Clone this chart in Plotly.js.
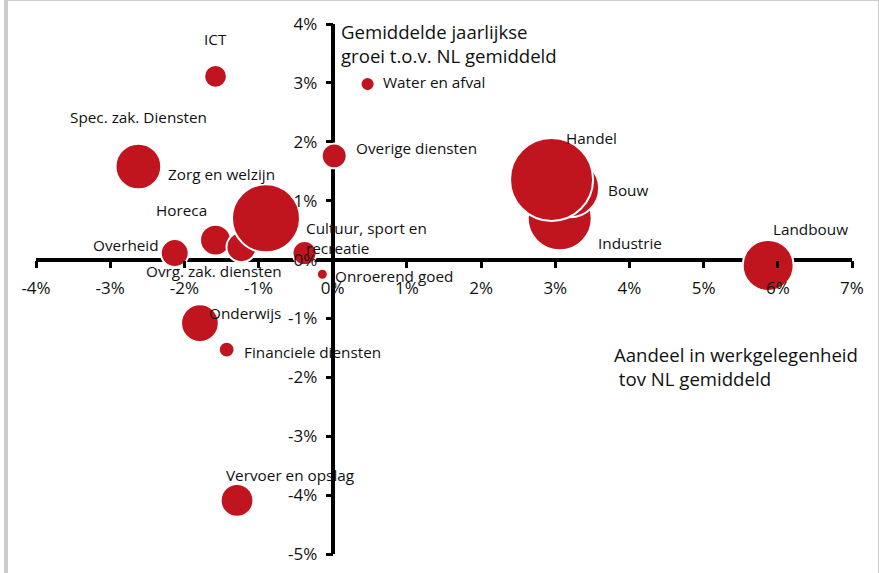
<!DOCTYPE html>
<html>
<head>
<meta charset="utf-8">
<script src="https://cdn.plot.ly/plotly-3.0.1.min.js"></script>
<style>
  html, body { margin: 0; padding: 0; background: #fff; }
  #wrap { position: relative; width: 879px; height: 573px; overflow: hidden; }
  #chart { position: absolute; left: 0; top: 0; width: 879px; height: 573px; }
  #frame { position: absolute; left: 4px; top: 0; width: 875px; height: 573px;
           border-left: 4px solid #cccccc; border-top: 1px solid #cccccc; border-right: 1px solid #cccccc;
           box-sizing: border-box; pointer-events: none; }
</style>
</head>
<body>
<div id="wrap">
  <div id="chart"></div>
  <div id="frame"></div>
</div>
<script>
// Sectors (draw order: later items are drawn on top)
const sectoren = [
  "Landbouw", "Industrie", "Water en afval", "Bouw", "Handel",
  "Vervoer en opslag", "Horeca", "ICT", "Financiele diensten", "Onroerend goed",
  "Spec. zak. Diensten", "Ovrg. zak. diensten", "Overheid", "Onderwijs",
  "Zorg en welzijn", "Cultuur, sport en<br>recreatie", "Overige diensten"
];
// Aandeel in werkgelegenheid t.o.v. NL gemiddeld (%)
const aandeel = [
  5.87, 3.06, 0.47, 3.20, 2.95,
  -1.29, -1.58, -1.58, -1.43, -0.14,
  -2.62, -1.23, -2.13, -1.79,
  -0.90, -0.38, 0.02
];
// Gemiddelde jaarlijkse groei t.o.v. NL gemiddeld (%)
const groei = [
  -0.10, 0.70, 2.98, 1.21, 1.36,
  -4.09, 0.33, 3.11, -1.53, -0.25,
  1.58, 0.21, 0.11, -1.08,
  0.70, 0.11, 1.76
];
// Omvang werkgelegenheid (relatieve bubbelgrootte)
const omvang = [
  260, 410, 20, 336, 689,
  107, 96, 52, 25, 12,
  209, 90, 78, 142,
  462, 58, 62
];
// Tick values and labels
const xTickVals = [-4, -3, -2, -1, 0, 1, 2, 3, 4, 5, 6, 7];
const xTickText = ["-4%", "-3%", "-2%", "-1%", "0%", "1%", "2%", "3%", "4%", "5%", "6%", "7%"];
const yTickVals = [-5, -4, -3, -2, -1, 0, 1, 2, 3, 4];
const yTickText = ["-5%", "-4%", "-3%", "-2%", "-1%", "0%", "1%", "2%", "3%", "4%"];

// Label placement (layout only): [xanchor, xshift px, yshift px]
const labelPlaatsing = [
  ["left", 3, 36], ["left", 36, -25], ["left", 13, 2], ["left", 36, -2], ["left", 12, 41],
  ["left", -13, 25], ["center", -34, 30], ["center", 0, 37], ["left", 15, -2], ["left", 11, -2],
  ["center", 0, 50], ["center", -27, -24], ["right", -14, 8], ["left", 7, 10],
  ["center", -44, 44], ["left", -1, 15], ["left", 20, 8]
];

const rood = "#C0141E";
const fontFam = "'Open Sans', 'Noto Sans', sans-serif";

const trace = {
  type: "scatter",
  mode: "markers",
  x: aandeel,
  y: groei,
  text: sectoren,
  hoverinfo: "text",
  cliponaxis: false,
  marker: {
    size: omvang,
    sizemode: "area",
    sizeref: 0.2,
    color: rood,
    opacity: 1,
    line: { color: "#ffffff", width: 2 }
  }
};

const annotations = sectoren.map((s, i) => ({
  x: aandeel[i], y: groei[i], xref: "x", yref: "y",
  text: s, showarrow: false,
  xanchor: labelPlaatsing[i][0], yanchor: "middle", align: "left",
  xshift: labelPlaatsing[i][1], yshift: labelPlaatsing[i][2],
  font: { family: fontFam, size: 15.3, color: "#111" }
}));

annotations.push({
  xref: "x", yref: "y", x: 0, y: 4, xanchor: "left", yanchor: "top",
  xshift: 6, yshift: 7, align: "left", showarrow: false,
  text: "Gemiddelde jaarlijkse<br>groei t.o.v. NL gemiddeld",
  font: { family: fontFam, size: 18.6, color: "#111" }
});
annotations.push({
  xref: "x", yref: "y", x: 4, y: -1.4, xanchor: "left", yanchor: "top",
  xshift: -17, yshift: 2, align: "left", showarrow: false,
  text: "Aandeel in werkgelegenheid<br>\u00a0tov NL gemiddeld",
  font: { family: fontFam, size: 18.6, color: "#111" }
});

const layout = {
  width: 879, height: 573,
  margin: { l: 36, r: 27, t: 24, b: 19, pad: 0 },
  paper_bgcolor: "rgba(0,0,0,0)",
  plot_bgcolor: "rgba(0,0,0,0)",
  showlegend: false,
  font: { family: fontFam, color: "#111" },
  xaxis: {
    range: [-4, 7], tickmode: "array", tickvals: xTickVals, ticktext: xTickText,
    anchor: "free", position: 5 / 9,
    showline: false, showgrid: false,
    zeroline: true, zerolinecolor: "#000", zerolinewidth: 4,
    ticks: "outside", ticklen: 7, tickwidth: 3, tickcolor: "#000",
    ticklabelstandoff: 6,
    tickfont: { family: fontFam, size: 17, color: "#111" },
    fixedrange: true
  },
  yaxis: {
    range: [-5, 4], tickmode: "array", tickvals: yTickVals, ticktext: yTickText,
    anchor: "free", position: 4 / 11,
    showline: false, showgrid: false,
    zeroline: true, zerolinecolor: "#000", zerolinewidth: 4,
    ticks: "outside", ticklen: 7, tickwidth: 3, tickcolor: "#000",
    ticklabelstandoff: 5,
    tickfont: { family: fontFam, size: 17, color: "#111" },
    fixedrange: true
  },
  annotations: annotations
};

Plotly.newPlot("chart", [trace], layout, { displayModeBar: false, staticPlot: true });
</script>
</body>
</html>
